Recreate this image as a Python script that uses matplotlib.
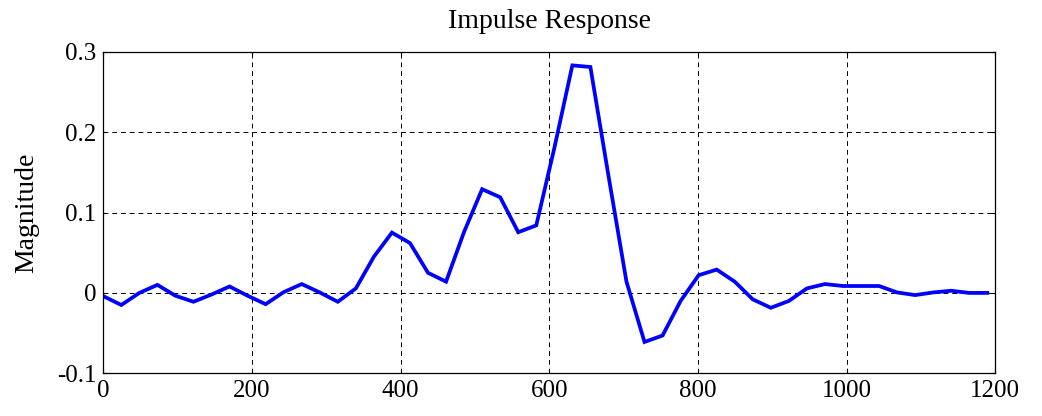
import numpy as np
import matplotlib
matplotlib.use('Agg')
import matplotlib.pyplot as plt

plt.rcParams['font.family'] = ['Liberation Serif', 'DejaVu Serif']
plt.rcParams['axes.unicode_minus'] = False

# sample spacing of the response
dt = 24.27
h = [-0.004, -0.015, 0.000, 0.010, -0.0035, -0.011, -0.002, 0.008, -0.0035, -0.014,
     0.001, 0.011, 0.0006, -0.011, 0.0056, 0.045, 0.075, 0.062, 0.025, 0.014,
     0.076, 0.129, 0.119, 0.0755, 0.084, 0.180, 0.283, 0.281, 0.146, 0.014,
     -0.061, -0.053, -0.010, 0.022, 0.029, 0.014, -0.008, -0.0185, -0.010, 0.0056,
     0.011, 0.0086, 0.0086, 0.0086, 0.0006, -0.0027, 0.0006, 0.0027, 0.0, 0.0]
n = np.arange(len(h)) * dt

xticks = [0, 200, 400, 600, 800, 1000, 1200]
yticks = [-0.1, 0, 0.1, 0.2, 0.3]
yticklabels = ['-0.1', '0', '0.1', '0.2', '0.3']

fig = plt.figure(figsize=(10.42, 4.16), dpi=100)
ax = fig.add_axes([0.0991, 0.1026, 0.8561, 0.7731])
ax.plot(n, h, color='#0000ff', lw=2.7, solid_joinstyle='miter')

ax.set_xlim(0, 1200)
ax.set_ylim(-0.1, 0.3)
ax.set_xticks(xticks)
ax.set_xticklabels([str(t) for t in xticks])
ax.set_yticks(yticks)
ax.set_yticklabels(yticklabels)
ax.tick_params(direction='in', length=3, width=0.8, labelsize=18, pad=5,
               top=True, right=True)
ax.grid(True, color='black', lw=0.7, linestyle=(0, (5, 4)))
for sp in ax.spines.values():
    sp.set_linewidth(0.9)

ax.set_title('Impulse Response', fontsize=20, pad=17)
ax.set_ylabel('Magnitude', fontsize=20, labelpad=13)

fig.savefig('out.png', dpi=100)
